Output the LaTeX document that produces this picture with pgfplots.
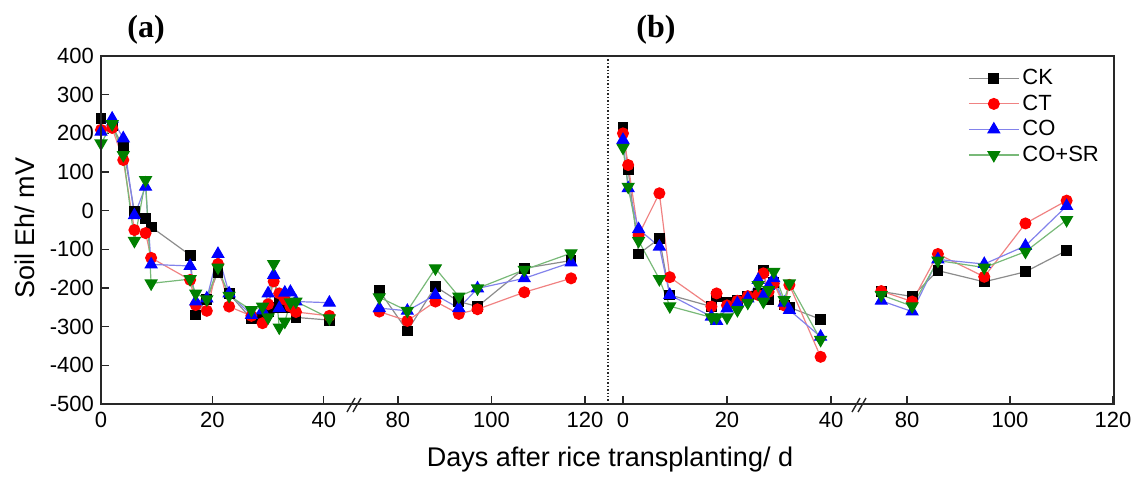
\documentclass[border=0pt]{standalone}
\usepackage{pgfplots}
\pgfplotsset{compat=1.18}
\usepackage{fontspec}
\setmainfont{Liberation Sans}
\newfontfamily\tnr{Liberation Serif}
\definecolor{ckline}{RGB}{140,140,140}
\definecolor{ctline}{RGB}{240,130,130}
\definecolor{coline}{RGB}{130,130,235}
\definecolor{srline}{RGB}{120,185,120}
\definecolor{srmark}{RGB}{0,128,0}
\definecolor{framec}{RGB}{40,40,40}

\pgfplotstableread{
day ck ct co sr
0 238 209 204 174
2 220 214 238 224
4 164 131 187 144
6 -3 -50 -12 -78
8 -20 -58 62 79
9 -42 -122 -139 -188
16 -115 -179 -143 -177
17 -270 -244 -235 -214
19 -229 -259 -227 -229
21 -159 -138 -112 -147
23 -215 -248 -214 -220
27 -280 -272 -270 -257
29 -278 -291 -258 -248
30 -262 -242 -214 -276
31 -250 -183 -166 -138
32 -238 -214 -252 -302
33 -250 -230 -212 -287
34 -245 -248 -210 -237
35 -276 -262 -235 -235
41 -283 -272 -238 -278
}\dataAone

\pgfplotstableread{
day ck ct co sr
76 -207 -261 -252 -224
82 -311 -285 -259 -259
88 -196 -235 -218 -149
93 -235 -267 -252 -222
97 -248 -255 -201 -201
107 -149 -211 -175 -153
117 -129 -175 -134 -110
}\dataAtwo

\pgfplotstableread{
day ck ct co sr
0 215 200 183 163
1 105 118 58 62
3 -112 -63 -48 -78
7 -72 45 -93 -177
9 -218 -172 -218 -247
17 -248 -248 -274 -276
18 -222 -214 -285 -276
20 -238 -245 -253 -276
22 -231 -233 -240 -257
24 -222 -221 -227 -238
26 -215 -218 -179 -192
27 -155 -162 -220 -235
28 -231 -210 -195 -205
29 -185 -188 -175 -158
31 -244 -245 -238 -231
32 -250 -192 -257 -188
38 -281 -378 -326 -334
}\dataBone

\pgfplotstableread{
day ck ct co sr
75 -209 -208 -233 -218
81 -222 -235 -261 -247
86 -155 -112 -126 -129
95 -184 -171 -138 -147
103 -158 -33 -91 -106
111 -103 26 12 -24
}\dataBtwo

\pgfplotsset{
  seg/.style={scale only axis, height=174pt, ymin=-500, ymax=400,
    axis line style={draw=none}, tick align=inside, tick pos=left,
    major tick length=4pt, ytick=\empty, minor tick num=0,
    ticklabel style={font=\fontsize{11}{13}\selectfont, text=black},
    /pgf/number format/assume math mode=true, clip=false,
    tick style={framec, line width=0.6pt},
    xticklabel style={yshift=-0.5pt}, anchor=south west},
  ck/.style={draw=ckline, line width=0.6pt, mark=square*, mark size=2.4pt,
    mark options={fill=black, draw=black}},
  ct/.style={draw=ctline, line width=0.6pt, mark=*, mark size=2.7pt,
    mark options={fill=red, draw=red}},
  co/.style={draw=coline, line width=0.6pt, mark=triangle*, mark size=3.3pt,
    mark options={fill=blue, draw=blue}},
  sr/.style={draw=srline, line width=0.6pt, mark=triangle*, mark size=3.3pt,
    mark options={fill=srmark, draw=srmark, rotate=180}},
}

\begin{document}
\begin{tikzpicture}
\useasboundingbox (0,0) rectangle (567pt,-238.5pt);

% panel (a), first segment
\begin{axis}[seg, at={(50.5pt,-202pt)}, width=128pt, xmin=0, xmax=45.96,
  xtick={0,20,40}, ytick={-500,-400,...,400}]
\addplot[ck] table[x=day,y=ck]{\dataAone};
\addplot[ct] table[x=day,y=ct]{\dataAone};
\addplot[co] table[x=day,y=co]{\dataAone};
\addplot[sr] table[x=day,y=sr]{\dataAone};
\end{axis}

% panel (a), second segment
\begin{axis}[seg, at={(178.5pt,-202pt)}, width=125.5pt, xmin=71.24, xmax=124.9,
  xtick={80,100,120}]
\addplot[ck] table[x=day,y=ck]{\dataAtwo};
\addplot[ct] table[x=day,y=ct]{\dataAtwo};
\addplot[co] table[x=day,y=co]{\dataAtwo};
\addplot[sr] table[x=day,y=sr]{\dataAtwo};
\end{axis}

% panel (b), first segment
\begin{axis}[seg, at={(304pt,-202pt)}, width=127pt, xmin=-2.88, xmax=45.96,
  xtick={0,20,40}]
\addplot[ck] table[x=day,y=ck]{\dataBone};
\addplot[ct] table[x=day,y=ct]{\dataBone};
\addplot[co] table[x=day,y=co]{\dataBone};
\addplot[sr] table[x=day,y=sr]{\dataBone};
\end{axis}

% panel (b), second segment
\begin{axis}[seg, at={(431pt,-202pt)}, width=126pt, xmin=71.26, xmax=120.2,
  xtick={80,100,120},
  legend style={at={(0.42,0.972)}, anchor=north west, draw=none, fill=none,
    font=\fontsize{11}{12}\selectfont, row sep=0.6pt, inner sep=0pt,
    nodes={inner sep=1.5pt}},
  legend cell align=left,
  legend image code/.code={\draw[mark repeat=2,mark phase=2,#1]
    plot coordinates {(0pt,0pt) (12.5pt,0pt) (25pt,0pt)};}]
\addplot[ck] table[x=day,y=ck]{\dataBtwo};
\addplot[ct] table[x=day,y=ct]{\dataBtwo};
\addplot[co] table[x=day,y=co]{\dataBtwo};
\addplot[sr] table[x=day,y=sr]{\dataBtwo};
\legend{CK,CT,CO,CO+SR}
\end{axis}

% frame
\draw[framec, line width=0.8pt] (50.5pt,-202pt) -- (50.5pt,-28pt) -- (557pt,-28pt) -- (557pt,-202pt) -- cycle;
\draw[framec, line width=0.7pt, densely dotted] (304pt,-28pt) -- (304pt,-202pt);
% break marks
\draw[framec, line width=0.7pt] (173.5pt,-206pt) -- (177.5pt,-199pt);
\draw[framec, line width=0.7pt] (176.5pt,-206pt) -- (180.5pt,-199pt);
\draw[framec, line width=0.7pt] (426pt,-206pt) -- (430pt,-199pt);
\draw[framec, line width=0.7pt] (429pt,-206pt) -- (433pt,-199pt);

% labels
\node[rotate=90, font=\fontsize{13.5}{15}\selectfont] at (12.5pt,-114pt) {Soil Eh/ mV};
\node[font=\fontsize{13.5}{15}\selectfont] at (305pt,-230pt) {Days after rice transplanting/ d};
\node[font=\tnr\bfseries\fontsize{16}{18}\selectfont] at (73pt,-15pt) {(a)};
\node[font=\tnr\bfseries\fontsize{16}{18}\selectfont] at (328pt,-15pt) {(b)};
\end{tikzpicture}
\end{document}
